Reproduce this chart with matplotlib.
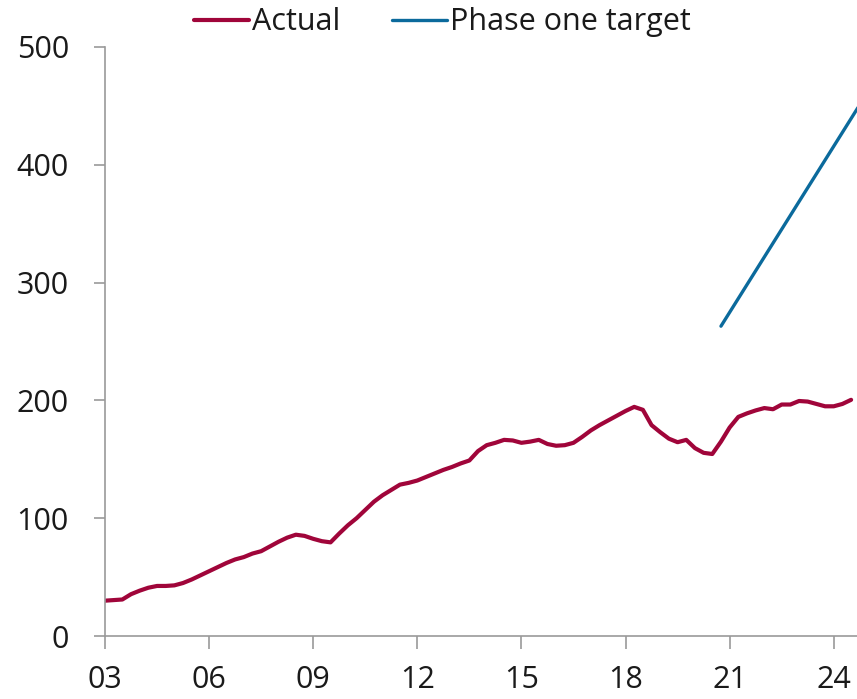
import numpy as np
import matplotlib
matplotlib.use("Agg")
import matplotlib.pyplot as plt

plt.rcParams['font.family'] = ['Open Sans', 'DejaVu Sans']

# Actual, quarterly from 2003 Q1 to 2024 Q3
actual_start = 2003.0
actual = [
    30, 30.5, 31, 35.5,
    38.5, 41, 42.5, 42.5,
    43, 45, 48, 51.5,
    55, 58.5, 62, 65,
    67, 70, 72, 76,
    80, 83.5, 86, 85,
    82.5, 80.5, 79.5, 87,
    94, 100, 107, 114,
    119.5, 124, 128.5, 130,
    132, 135, 138, 141,
    143.5, 146.5, 149, 157,
    162, 164, 166.5, 166,
    164, 165, 166.5, 163,
    161.5, 162, 164, 169,
    174.5, 179, 183, 187,
    191, 194.5, 192, 179,
    173, 167.5, 164.5, 166.5,
    159.5, 155.5, 154.5, 165,
    177, 186, 189, 191.5,
    193.5, 192.5, 196.5, 196.5,
    199.5, 199, 197, 195,
    195, 197, 200.5,
]
actual_x = actual_start + np.arange(len(actual)) * 0.25

# Phase one target
target_x = [2020.75, 2021.75, 2022.75, 2023.75, 2024.75]
target = [263, 310, 357, 404, 451]

xticks = [2003, 2006, 2009, 2012, 2015, 2018, 2021, 2024]
xtick_labels = ["03", "06", "09", "12", "15", "18", "21", "24"]
yticks = [0, 100, 200, 300, 400, 500]

red = "#A0053A"
blue = "#0B6A9C"
spine = "#9a9a9a"
txt = "#1a1a1a"

fig = plt.figure(figsize=(8.57, 6.99), dpi=100)
ax = fig.add_axes([0.1225, 0.0901, 0.8775, 0.8427])

ax.plot(actual_x, actual, color=red, lw=3, label="Actual", solid_capstyle="round")
ax.plot(target_x, target, color=blue, lw=2.4, label="Phase one target", solid_capstyle="round")

ax.set_xlim(2003, 2024.67)
ax.set_ylim(0, 500)
ax.set_xticks(xticks)
ax.set_xticklabels(xtick_labels)
ax.set_yticks(yticks)

for s in ["top", "right"]:
    ax.spines[s].set_visible(False)
for s in ["left", "bottom"]:
    ax.spines[s].set_color(spine)
    ax.spines[s].set_linewidth(1.2)

ax.tick_params(axis="x", length=9, width=1.2, color=spine, pad=12,
               labelsize=22, labelcolor=txt)
ax.tick_params(axis="y", length=8, width=1.2, color=spine, pad=18,
               labelsize=22, labelcolor=txt)

fig.legend(loc="center", bbox_to_anchor=(0.516, 0.968), ncol=2, frameon=False,
           fontsize=22, handlelength=1.8, handletextpad=0.1, columnspacing=1.7,
           labelcolor=txt)

fig.savefig("out.png", dpi=100)
